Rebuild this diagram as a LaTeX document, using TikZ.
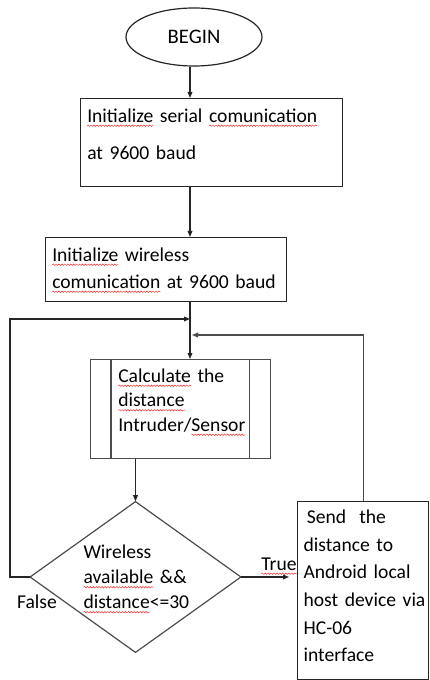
\documentclass[tikz,border=0pt]{standalone}
\usepackage{fontspec}
\setmainfont{Carlito}[WordSpace=0.8]
\usetikzlibrary{shapes.geometric,arrows.meta,decorations.pathmorphing}
\newdimen\px \px=0.75pt
\newlength\sqw
\newcommand\spellerr[1]{\leavevmode\settowidth{\sqw}{#1}\rlap{\tikz[overlay,baseline=0pt,x=1pt,y=1pt]
    \draw[red!85,line width=0.35pt,decorate,decoration={snake,amplitude=0.55pt,segment length=2.2pt}] (0pt,-2.6pt) -- (\sqw,-2.6pt);}#1}
\tikzset{
  procbox/.style={draw,rectangle,inner xsep=7*\px,inner ysep=0pt,align=left,anchor=north west},
  flowtxt/.style={font=\fontsize{14.7}{#1}\selectfont},
}
\begin{document}
\begin{tikzpicture}[x=0.75pt,y=-0.75pt,>={Triangle[length=4.5pt,width=3.5pt]},line width=0.9pt,draw=black!85]
    \useasboundingbox (0,0) rectangle (429,680);
    \coordinate (spine) at (190,0);
    \coordinate (loopx) at (10,0);
    \coordinate (joinA) at (190,319);
    \coordinate (joinB) at (192,335);

    % start
    \node[draw,ellipse,minimum width=136*\px,minimum height=58*\px,font=\fontsize{15.5}{18}\selectfont] (begin) at (194,37) {BEGIN};

    % set up
    \node[procbox,minimum width=262*\px,text width=248*\px,text height=24*\px,text depth=64*\px,flowtxt=27.75] (serial) at (80,98)
        {\spellerr{Initialize} serial \spellerr{comunication}\\at 9600 baud};
    \node[procbox,minimum width=241*\px,text width=227*\px,text height=24*\px,text depth=40*\px,flowtxt=20.25] (wifi) at (45,237)
        {\spellerr{Initialize} wireless\\\spellerr{comunication} at 9600 baud};

    % measure
    \node[procbox,draw=black!70,minimum width=180*\px,text width=124*\px,text height=23*\px,text depth=76*\px,inner xsep=28*\px,flowtxt=18.4] (calc) at (90,359)
        {\spellerr{Calculate} the\\\spellerr{distance}\\Intruder/\spellerr{Sensor}};
    \draw[black!70] ([xshift=21*\px]calc.north west) -- ([xshift=21*\px]calc.south west);
    \draw[black!70] ([xshift=-21*\px]calc.north east) -- ([xshift=-21*\px]calc.south east);

    % test
    \node[draw=black!70,diamond,aspect=1.4,inner sep=0pt,minimum width=211*\px,minimum height=151*\px,text width=104*\px,align=left,flowtxt=18.75] (check) at (135.5,577)
        {Wireless\\\spellerr{available} \&\&\\\spellerr{distance}<=30};

    % send
    \node[procbox,minimum width=131*\px,text width=123*\px,text height=22*\px,text depth=156*\px,inner xsep=4*\px,flowtxt=20.7] (send) at (297,501)
        {\hspace*{4pt}Send\ \ the\\\hspace*{1.5pt}distance to\\\hspace*{1.5pt}Android local\\\hspace*{1.5pt}\mbox{host device via}\\\hspace*{1.5pt}HC-06\\\hspace*{1.5pt}interface};

    % connectors
    \draw[->] (begin.south -| spine) -- (serial.north -| spine);
    \draw[->] (serial.south -| spine) -- (wifi.north -| spine);
    \draw[->] (wifi.south -| spine) -- (calc.north -| spine);
    \draw[->] (check.north |- calc.south) -- (check.north);
    \draw[->] (check.west) -- (check.west -| loopx) |- (joinA);
    \draw[->,draw=black!70] (send.north) |- (joinB);
    \draw[->] (check.east) -- ([xshift=-8*\px]check.east -| send.west);

    \node[flowtxt=16] (truelbl) at (279,564) {\spellerr{True}};
    \node[flowtxt=16] (falselbl) at (37,602) {False};
\end{tikzpicture}
\end{document}
